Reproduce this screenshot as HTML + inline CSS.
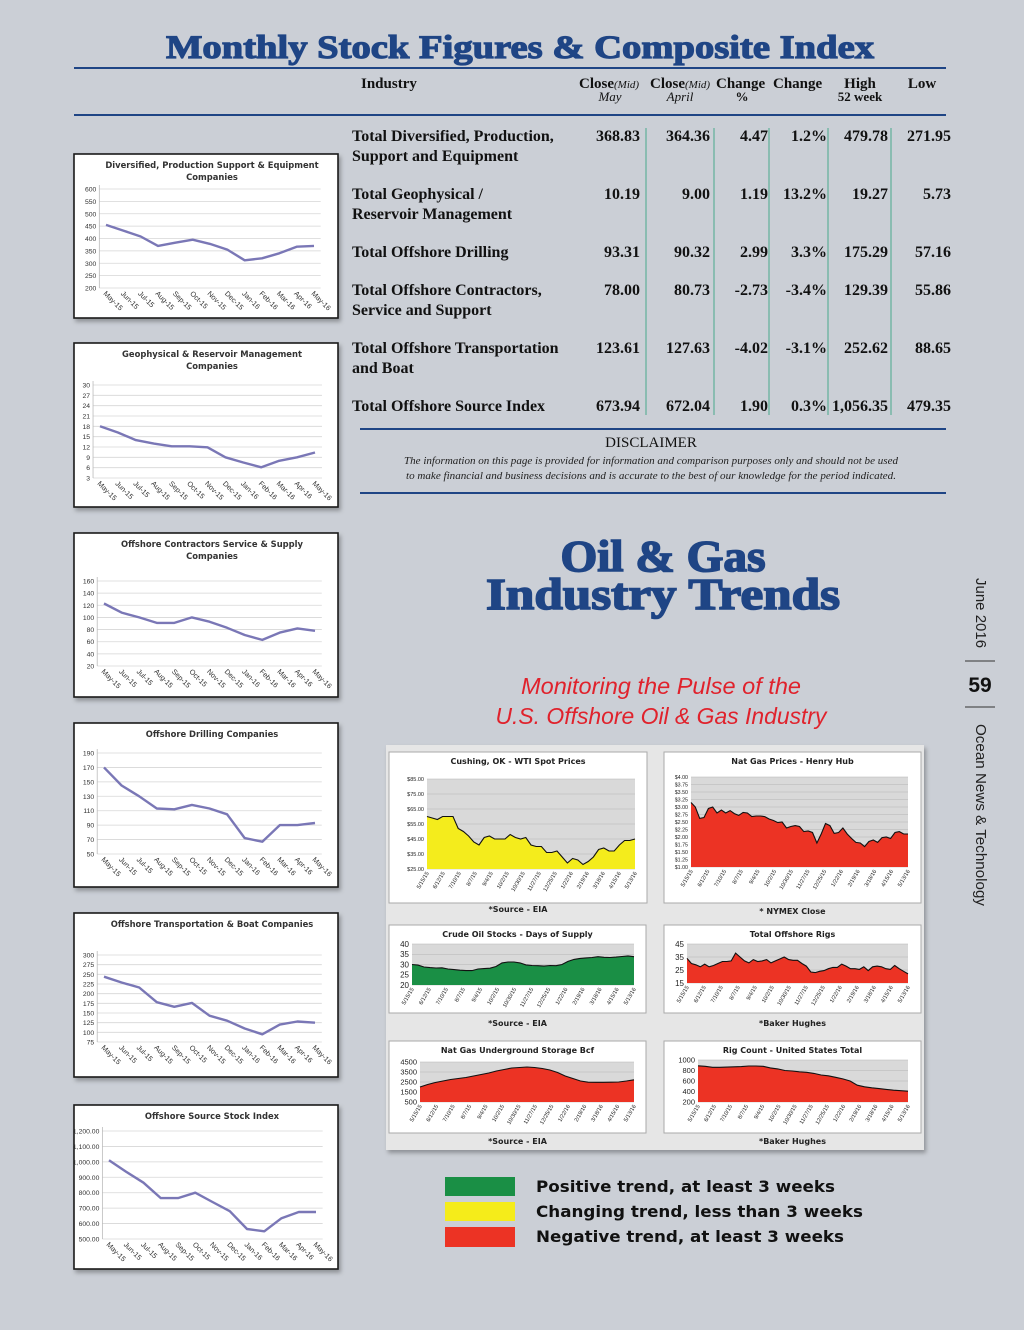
<!DOCTYPE html>
<html><head><meta charset="utf-8"><style>
html,body{margin:0;padding:0;background:#cbcfd6;}
svg{display:block;}
.serif{font-family:"Liberation Serif","DejaVu Serif",serif;}
.sans{font-family:"Liberation Sans","DejaVu Sans",sans-serif;}
</style></head><body>
<svg id="pg" width="1024" height="1330" viewBox="0 0 1024 1330" xmlns="http://www.w3.org/2000/svg">
<defs>
<filter id="sh" x="-5%" y="-5%" width="115%" height="115%"><feDropShadow dx="2" dy="3" stdDeviation="2" flood-color="#000" flood-opacity="0.3"/></filter>
</defs>
<rect x="0" y="0" width="1024" height="1330" fill="#cbcfd6"/>
<text x="520" y="58" text-anchor="middle" class="serif" font-weight="bold" font-size="33" fill="#1f4585" stroke="#1f4585" stroke-width="1.2" textLength="708" lengthAdjust="spacingAndGlyphs">Monthly Stock Figures &amp; Composite Index</text>
<line x1="74" y1="68" x2="946" y2="68" stroke="#1f4585" stroke-width="2"/>
<g class="serif" font-weight="bold" font-size="15" fill="#111">
<text x="361" y="88">Industry</text>
<text x="579" y="88">Close<tspan font-weight="normal" font-style="italic" font-size="11">(Mid)</tspan></text>
<text x="610" y="101" text-anchor="middle" font-weight="normal" font-style="italic" font-size="13">May</text>
<text x="650" y="88">Close<tspan font-weight="normal" font-style="italic" font-size="11">(Mid)</tspan></text>
<text x="680" y="101" text-anchor="middle" font-weight="normal" font-style="italic" font-size="13">April</text>
<text x="716" y="88">Change</text>
<text x="742" y="101" text-anchor="middle" font-size="13">%</text>
<text x="773" y="88">Change</text>
<text x="860" y="88" text-anchor="middle">High</text>
<text x="860" y="101" text-anchor="middle" font-size="13">52 week</text>
<text x="922" y="88" text-anchor="middle">Low</text>
</g>
<line x1="74" y1="115" x2="946" y2="115" stroke="#1f4585" stroke-width="2"/>
<g stroke="#4aa88c" stroke-width="1">
<line x1="646" y1="128" x2="646" y2="415"/><line x1="714" y1="128" x2="714" y2="415"/><line x1="769" y1="128" x2="769" y2="415"/><line x1="828" y1="128" x2="828" y2="415"/><line x1="891" y1="128" x2="891" y2="415"/>
</g>
<g id="tbl" class="serif" font-weight="bold" font-size="16" fill="#111"></g>
<line x1="360" y1="429" x2="946" y2="429" stroke="#1f4585" stroke-width="2"/>
<text x="651" y="447" text-anchor="middle" class="serif" font-size="15" fill="#111">DISCLAIMER</text>
<text x="651" y="464" text-anchor="middle" class="serif" font-style="italic" font-size="11" fill="#222" textLength="494" lengthAdjust="spacingAndGlyphs">The information on this page is provided for information and comparison purposes only and should not be used</text>
<text x="651" y="479" text-anchor="middle" class="serif" font-style="italic" font-size="11" fill="#222" textLength="490" lengthAdjust="spacingAndGlyphs">to make financial and business decisions and is accurate to the best of our knowledge for the period indicated.</text>
<line x1="360" y1="493" x2="946" y2="493" stroke="#1f4585" stroke-width="2"/>
<text x="663" y="571" text-anchor="middle" class="serif" font-weight="bold" font-size="44" fill="#1f4585" stroke="#1f4585" stroke-width="1.6" textLength="205" lengthAdjust="spacingAndGlyphs">Oil &amp; Gas</text>
<text x="663" y="609" text-anchor="middle" class="serif" font-weight="bold" font-size="44" fill="#1f4585" stroke="#1f4585" stroke-width="1.6" textLength="354" lengthAdjust="spacingAndGlyphs">Industry Trends</text>
<text x="661" y="694" text-anchor="middle" class="sans" font-style="italic" font-size="23" fill="#e0222c" textLength="280" lengthAdjust="spacingAndGlyphs">Monitoring the Pulse of the</text>
<text x="661" y="724" text-anchor="middle" class="sans" font-style="italic" font-size="23" fill="#e0222c" textLength="331" lengthAdjust="spacingAndGlyphs">U.S. Offshore Oil &amp; Gas Industry</text>
<text transform="translate(976,578) rotate(90)" class="sans" font-size="15" fill="#222">June 2016</text>
<line x1="965" y1="661" x2="995" y2="661" stroke="#333"/>
<text x="980" y="692" text-anchor="middle" class="sans" font-weight="bold" font-size="21" fill="#111">59</text>
<line x1="965" y1="707" x2="995" y2="707" stroke="#333"/>
<text transform="translate(976,724) rotate(90)" class="sans" font-size="15" fill="#222" textLength="182" lengthAdjust="spacingAndGlyphs">Ocean News &amp; Technology</text>
<rect x="386" y="745" width="538" height="405" fill="#e6e6e6" filter="url(#sh)"/>
<g id="left"></g>
<g id="right"></g>
<g>
<rect x="445" y="1177" width="70" height="19" fill="#1a8f45"/>
<rect x="445" y="1202" width="70" height="19" fill="#f5ec1a"/>
<rect x="445" y="1227" width="70" height="20" fill="#ec3324"/>
<text x="536" y="1192" font-family="DejaVu Sans, sans-serif" font-weight="bold" font-size="16" fill="#111" textLength="299" lengthAdjust="spacingAndGlyphs">Positive trend, at least 3 weeks</text>
<text x="536" y="1217" font-family="DejaVu Sans, sans-serif" font-weight="bold" font-size="16" fill="#111" textLength="327" lengthAdjust="spacingAndGlyphs">Changing trend, less than 3 weeks</text>
<text x="536" y="1242" font-family="DejaVu Sans, sans-serif" font-weight="bold" font-size="16" fill="#111" textLength="308" lengthAdjust="spacingAndGlyphs">Negative trend, at least 3 weeks</text>
</g>
</svg>
<script>
var rowNames = [["Total Diversified, Production,","Support and Equipment"],["Total Geophysical /","Reservoir Management"],["Total Offshore Drilling"],["Total Offshore Contractors,","Service and Support"],["Total Offshore Transportation","and Boat"],["Total Offshore Source Index"]];
var closeMay = ["368.83","10.19","93.31","78.00","123.61","673.94"];
var closeApril = ["364.36","9.00","90.32","80.73","127.63","672.04"];
var changeVal = ["4.47","1.19","2.99","-2.73","-4.02","1.90"];
var changePct = ["1.2%","13.2%","3.3%","-3.4%","-3.1%","0.3%"];
var high52 = ["479.78","19.27","175.29","129.39","252.62","1,056.35"];
var low52 = ["271.95","5.73","57.16","55.86","88.65","479.35"];

var months = ["May-15","Jun-15","Jul-15","Aug-15","Sep-15","Oct-15","Nov-15","Dec-15","Jan-16","Feb-16","Mar-16","Apr-16","May-16"];
var divValues = [455,432,408,370,383,395,378,355,312,320,340,367,370];
var geoValues = [18,16.2,14,13,12.2,12.2,11.9,9,7.5,6.1,8,9,10.4];
var contractorValues = [123,108,100,91,91,100,93,83,71,63,75,82,78];
var drillingValues = [170,145,130,113,112,118,113,105,72,67,90,90,93];
var transportValues = [244,229,216,178,166,176,143,130,110,95,120,128,125];
var indexValues = [1010,935,865,765,765,800,740,680,565,550,635,675,675];
var divTicks = [200,250,300,350,400,450,500,550,600];
var geoTicks = [3,6,9,12,15,18,21,24,27,30];
var contractorTicks = [20,40,60,80,100,120,140,160];
var drillingTicks = [50,70,90,110,130,150,170,190];
var transportTicks = [75,100,125,150,175,200,225,250,275,300];
var indexTicks = [500,600,700,800,900,1000,1100,1200];

var trendDates = ["5/15/15","6/12/15","7/10/15","8/7/15","9/4/15","10/2/15","10/30/15","11/27/15","12/25/15","1/22/16","2/19/16","3/18/16","4/15/16","5/13/16"];
var wtiValues = [60,59,58,60,60,60,52,50,47,43,41,46,47,45,45,45,48,46,45,46,41,40,40,36,36,37,33,29,32,31,28,30,33,38,39,37,37,41,44,44,45];
var natGasValues = [3.15,3.0,2.62,2.65,2.95,3.0,2.8,2.9,2.8,2.88,2.78,2.72,2.82,2.8,2.68,2.7,2.7,2.68,2.6,2.55,2.48,2.5,2.3,2.35,2.38,2.35,2.18,2.2,2.15,1.8,2.1,2.45,2.38,2.12,2.15,2.3,2.1,1.95,1.82,1.8,1.68,1.85,1.9,1.82,1.98,2.0,1.95,2.15,2.18,2.1,2.1];
var crudeDaysValues = [30,29.7,28.8,28.5,28.3,28.4,27.8,27.5,27.2,27,27,27.8,28,28.2,29,30.8,31.2,31.2,30.8,29.8,29.5,29.4,29.2,29.5,29.4,30,31.5,32.5,33,33.2,33.4,33.8,33.5,33.4,33.6,33.9,34.2,33.8];
var offshoreRigsValues = [34,30,29,27.5,29.5,27.5,28.5,30,31.5,31.5,32,38,35,32,30.5,33,31.5,32,33,30.5,32,33.5,35,33,32.5,32.5,30,28,23.5,23,24,24.5,26,27,27,29.5,28,26,26,25.5,27.5,24.5,27.5,28,27.5,26,25.5,28.5,26,24,22];
var storageValues = [2000,2250,2450,2600,2750,2850,2950,3100,3250,3400,3600,3750,3900,3950,4000,3950,3850,3700,3450,3100,2850,2600,2480,2470,2470,2480,2500,2600,2720];
var rigCountValues = [890,880,860,860,865,870,875,885,885,880,850,830,800,790,775,765,745,715,700,670,640,600,520,490,470,455,440,425,415,405];

var NS = "http://www.w3.org/2000/svg";
function mk(tag, attrs, parent, txt){
  var e = document.createElementNS(NS, tag);
  for (var k in attrs) e.setAttribute(k, attrs[k]);
  if (txt !== undefined) e.textContent = txt;
  parent.appendChild(e);
  return e;
}

var tbl = document.getElementById('tbl');
var rowY = [141,199,257,295,353,411];
var cols = [[closeMay,640],[closeApril,710],[changeVal,768],[changePct,827],[high52,888],[low52,951]];
for (var r = 0; r < rowNames.length; r++){
  for (var l = 0; l < rowNames[r].length; l++){
    var t = mk('text', {x:352, y:rowY[r] + l*20}, tbl, rowNames[r][l]);
    
    
  }
  for (var c = 0; c < cols.length; c++){
    var v = mk('text', {x:cols[c][1], y:rowY[r], 'text-anchor':'end'}, tbl, cols[c][0][r]);
    
    
  }
}

var leftG = document.getElementById('left');
var leftCharts = [
  {title:["Diversified, Production Support & Equipment","Companies"], y:154, top:35, bot:134, x0:106, x1:314, vals:divValues, ticks:divTicks, fmt:0, name:'diversified-chart'},
  {title:["Geophysical & Reservoir Management","Companies"], y:343, top:42, bot:135, x0:100, x1:315, vals:geoValues, ticks:geoTicks, fmt:0, name:'geophysical-chart'},
  {title:["Offshore Contractors Service & Supply","Companies"], y:533, top:48, bot:133, x0:104, x1:315, vals:contractorValues, ticks:contractorTicks, fmt:0, name:'contractors-chart'},
  {title:["Offshore Drilling Companies"], y:723, top:30, bot:131, x0:104, x1:315, vals:drillingValues, ticks:drillingTicks, fmt:0, name:'drilling-chart'},
  {title:["Offshore Transportation & Boat Companies"], y:913, top:42, bot:129, x0:104, x1:315, vals:transportValues, ticks:transportTicks, fmt:0, name:'transportation-chart'},
  {title:["Offshore Source Stock Index"], y:1105, top:26, bot:134, x0:109, x1:316, vals:indexValues, ticks:indexTicks, fmt:2, name:'source-index-chart'}
];
function fmtNum(v, d){
  if (!d) return String(v);
  var s = v.toFixed(d).split('.');
  return s[0].replace(/\B(?=(\d{3})+(?!\d))/g, ',') + '.' + s[1];
}
leftCharts.forEach(function(ch){
  var g = mk('g', {}, leftG);
  
  
  var box = mk('rect', {x:74, y:ch.y, width:264, height:164, fill:'#fff', stroke:'#1a1a1a', 'stroke-width':1.6, filter:'url(#sh)'}, g);
  
  
  ch.title.forEach(function(tl, i){
    var tt = mk('text', {x:212, y:ch.y + 14 + i*12, 'text-anchor':'middle', 'font-family':'DejaVu Sans, sans-serif', 'font-weight':'bold', 'font-size':8.4, fill:'#333'}, g, tl);
    
    
  });
  var mn = ch.ticks[0], mx = ch.ticks[ch.ticks.length-1];
  var yT = ch.y + ch.top, yB = ch.y + ch.bot;
  function ys(v){ return yB - (v - mn) / (mx - mn) * (yB - yT); }
  var step = (ch.x1 - ch.x0) / (ch.vals.length - 1);
  function xs(i){ return ch.x0 + i * step; }
  var axL = ch.x0 - step/2 + 2;
  ch.ticks.forEach(function(tv){
    var gl = mk('line', {x1:axL, x2:ch.x1 + step/2 - 2, y1:ys(tv), y2:ys(tv), stroke:'#d6d6d6', 'stroke-width':0.8}, g);
    
    
    var tl = mk('text', {x:axL - 3, y:ys(tv) + 2.5, 'text-anchor':'end', class:'sans', 'font-size':6.8, fill:'#333'}, g, fmtNum(tv, ch.fmt));
    
    
  });
  var ax = mk('line', {x1:axL, x2:axL, y1:yT - 4, y2:yB, stroke:'#bbb', 'stroke-width':0.8}, g);
  
  
  months.forEach(function(m, i){
    var xl = mk('text', {transform:'translate(' + (xs(i) - 3) + ',' + (yB + 6) + ') rotate(45)', class:'sans', 'font-size':7.2, fill:'#333'}, g, m);
    
    
  });
  var d = ch.vals.map(function(v, i){ return (i ? 'L' : 'M') + xs(i).toFixed(1) + ',' + ys(v).toFixed(1); }).join('');
  var ln = mk('path', {d:d, fill:'none', stroke:'#7a77b6', 'stroke-width':2.4, 'stroke-linejoin':'round'}, g);
  
  
});

var rightG = document.getElementById('right');
var areaCharts = [
  {title:"Cushing, OK  - WTI Spot Prices", bx:389, by:752, bw:258, bh:151, px0:427, px1:635, pyT:779, pyB:869, vals:wtiValues, mn:25, mx:85, ticks:[25,35,45,55,65,75,85], lab:function(v){return '$'+v.toFixed(2);}, fs:5.5, fill:'#f4ec1c', src:"*Source - EIA", srcY:912, name:'wti-chart'},
  {title:"Nat Gas Prices - Henry Hub", bx:664, by:752, bw:257, bh:151, px0:691, px1:908, pyT:777, pyB:867, vals:natGasValues, mn:1, mx:4, ticks:[1,1.25,1.5,1.75,2,2.25,2.5,2.75,3,3.25,3.5,3.75,4], lab:function(v){return '$'+v.toFixed(2);}, fs:5.3, fill:'#ec3324', src:"* NYMEX Close", srcY:914, name:'natgas-price-chart'},
  {title:"Crude Oil Stocks - Days of Supply", bx:389, by:925, bw:257, bh:88, px0:412, px1:634, pyT:944, pyB:985, vals:crudeDaysValues, mn:20, mx:40, ticks:[20,25,30,35,40], lab:function(v){return String(v);}, fs:8, fill:'#1a8f45', src:"*Source - EIA", srcY:1026, name:'crude-stocks-chart'},
  {title:"Total Offshore Rigs", bx:664, by:925, bw:257, bh:88, px0:687, px1:908, pyT:944, pyB:983, vals:offshoreRigsValues, mn:15, mx:45, ticks:[15,25,35,45], lab:function(v){return String(v);}, fs:8, fill:'#ec3324', src:"*Baker Hughes", srcY:1026, name:'offshore-rigs-chart'},
  {title:"Nat Gas Underground Storage Bcf", bx:389, by:1041, bw:257, bh:92, px0:420, px1:634, pyT:1062, pyB:1102, vals:storageValues, mn:500, mx:4500, ticks:[500,1500,2500,3500,4500], lab:function(v){return fmtNum(v,0);}, fs:7.5, fill:'#ec3324', src:"*Source - EIA", srcY:1144, name:'gas-storage-chart'},
  {title:"Rig Count - United States Total", bx:664, by:1041, bw:257, bh:92, px0:698, px1:908, pyT:1060, pyB:1102, vals:rigCountValues, mn:200, mx:1000, ticks:[200,400,600,800,1000], lab:function(v){return String(v);}, fs:7.5, fill:'#ec3324', src:"*Baker Hughes", srcY:1144, name:'rig-count-chart'}
];
areaCharts.forEach(function(ch){
  var g = mk('g', {}, rightG);
  
  
  var box = mk('rect', {x:ch.bx, y:ch.by, width:ch.bw, height:ch.bh, fill:'#fff', stroke:'#aaa', 'stroke-width':1}, g);
  
  
  var tt = mk('text', {x:ch.bx + ch.bw/2, y:ch.by + 12, 'text-anchor':'middle', 'font-family':'DejaVu Sans, sans-serif', 'font-weight':'bold', 'font-size':8, fill:'#222'}, g, ch.title);
  
  
  var pa = mk('rect', {x:ch.px0, y:ch.pyT, width:ch.px1 - ch.px0, height:ch.pyB - ch.pyT, fill:'#d9d9d9'}, g);
  
  
  function ys(v){ return ch.pyB - (v - ch.mn) / (ch.mx - ch.mn) * (ch.pyB - ch.pyT); }
  function xs(i){ return ch.px0 + i * (ch.px1 - ch.px0) / (ch.vals.length - 1); }
  ch.ticks.forEach(function(tv){
    var gl = mk('line', {x1:ch.px0, x2:ch.px1, y1:ys(tv), y2:ys(tv), stroke:'#b5b5b5', 'stroke-width':0.6}, g);
    
    
    var tl = mk('text', {x:ch.px0 - 3, y:ys(tv) + ch.fs*0.35, 'text-anchor':'end', class:'sans', 'font-size':ch.fs, fill:'#222'}, g, ch.lab(tv));
    
    
  });
  var pts = ch.vals.map(function(v, i){ return xs(i).toFixed(1) + ',' + ys(v).toFixed(1); });
  var area = mk('path', {d:'M' + ch.px0 + ',' + ch.pyB + 'L' + pts.join('L') + 'L' + ch.px1 + ',' + ch.pyB + 'Z', fill:ch.fill}, g);
  
  
  var ln = mk('path', {d:'M' + pts.join('L'), fill:'none', stroke:'#111', 'stroke-width':1.1}, g);
  
  
  trendDates.forEach(function(dt, i){
    var x = ch.px0 + i * (ch.px1 - ch.px0) / (trendDates.length - 1);
    var xl = mk('text', {transform:'translate(' + (x + 2) + ',' + (ch.pyB + 4) + ') rotate(-60)', 'text-anchor':'end', class:'sans', 'font-size':5.6, fill:'#222'}, g, dt);
    
    
  });
  var src = mk('text', {x:ch.bx + ch.bw/2, y:ch.srcY, 'text-anchor':'middle', 'font-family':'DejaVu Sans, sans-serif', 'font-weight':'bold', 'font-size':8, fill:'#222'}, g, ch.src);
  
  
});
</script>
</body></html>
